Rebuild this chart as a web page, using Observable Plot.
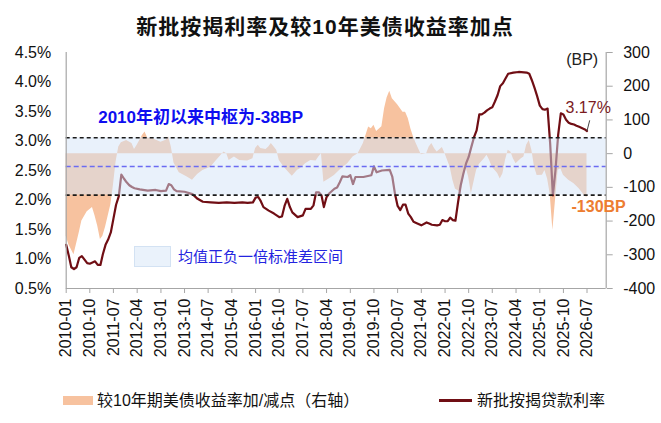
<!DOCTYPE html>
<html>
<head>
<meta charset="utf-8">
<script src="https://cdn.jsdelivr.net/npm/d3@7"></script>
<script src="https://cdn.jsdelivr.net/npm/@observablehq/plot@0.6"></script>
<style>
  body { margin: 0; background: #fff; }
  #wrap { position: relative; width: 661px; height: 423px; overflow: hidden;
          font-family: "Liberation Sans", Arial, "Noto Sans CJK SC", sans-serif; color: #111; }
  #wrap svg { position: absolute; left: 0; top: 0; }
  .title { position: absolute; left: 0; width: 650px; top: 15px; text-align: center;
           font-weight: bold; font-size: 21px; line-height: 24px; letter-spacing: 1px; color: #111; }
  .lg { position: absolute; font-size: 16px; line-height: 19px; white-space: nowrap; color: #111; }
  .sw { position: absolute; }
</style>
</head>
<body>
<div id="wrap">
  <div class="title">新批按揭利率及较10年美债收益率加点</div>
</div>
<script>
// ---------------- data ----------------
const xTickLabels = ["2010-01","2010-10","2011-07","2012-04","2013-01","2013-10","2014-07","2015-04",
  "2016-01","2016-10","2017-07","2018-04","2019-01","2019-10","2020-07","2021-04","2022-01","2022-10",
  "2023-07","2024-04","2025-01","2025-10","2026-07"];

const lineDates = ["2010-01","2010-02","2010-03","2010-04","2010-05","2010-06","2010-07","2010-08","2010-09","2010-10",
  "2010-11","2010-12","2011-01","2011-02","2011-03","2011-04","2011-05","2011-06","2011-07","2011-08","2011-09",
  "2011-10","2011-11","2011-12","2012-01","2012-02","2012-03","2012-05","2012-08","2012-11","2013-01","2013-03",
  "2013-04","2013-05","2013-06","2013-07","2013-10","2014-01","2014-03","2014-05","2014-08","2014-11","2015-02",
  "2015-05","2015-08","2015-10","2015-12","2016-01","2016-02","2016-03","2016-04","2016-06","2016-08","2016-10",
  "2016-11","2016-12","2017-01","2017-02","2017-03","2017-05","2017-07","2017-08","2017-10","2017-11","2017-12",
  "2018-01","2018-02","2018-03","2018-04","2018-05","2018-07","2018-08","2018-09","2018-10","2018-12","2019-01",
  "2019-02","2019-03","2019-06","2019-09","2019-10","2019-11","2020-01","2020-04","2020-05","2020-06","2020-07",
  "2020-08","2020-09","2020-10","2020-11","2020-12","2021-01","2021-02","2021-04","2021-06","2021-07","2021-08",
  "2021-10","2021-11","2021-12","2022-01","2022-02","2022-03","2022-04","2022-05","2022-06","2022-07","2022-08",
  "2022-09","2022-10","2022-11","2022-12","2023-01","2023-02","2023-03","2023-04","2023-05","2023-06","2023-07",
  "2023-08","2023-09","2023-10","2023-11","2023-12","2024-01","2024-03","2024-05","2024-08","2024-09","2024-10",
  "2024-11","2024-12","2025-01","2025-02","2025-03","2025-04","2025-05","2025-06","2025-07","2025-08","2025-09",
  "2025-10","2025-11","2025-12","2026-01","2026-02","2026-03","2026-04","2026-05","2026-06","2026-07"];
const lineRates = [1.24,1.05,0.86,0.83,0.86,1.02,1.05,0.99,0.93,0.92,
  0.94,0.96,0.90,0.90,1.08,1.24,1.33,1.45,1.68,1.92,2.06,
  2.43,2.36,2.30,2.25,2.22,2.20,2.18,2.16,2.17,2.15,2.16,
  2.27,2.25,2.18,2.15,2.14,2.10,2.02,1.97,1.96,1.95,1.96,
  1.95,1.96,1.95,1.96,2.04,2.05,1.98,1.88,1.82,1.77,1.71,
  1.72,1.90,2.02,1.88,1.79,1.71,1.74,1.85,1.85,1.91,2.13,
  2.13,2.08,1.88,2.05,2.11,2.19,2.21,2.30,2.40,2.39,2.42,
  2.27,2.39,2.39,2.42,2.57,2.47,2.50,2.51,2.39,2.10,1.90,
  1.83,1.92,1.92,1.77,1.71,1.63,1.61,1.57,1.62,1.60,1.58,
  1.57,1.58,1.66,1.64,1.64,1.70,1.66,1.65,1.97,2.25,2.45,
  2.62,2.73,2.90,3.06,3.18,3.45,3.45,3.48,3.52,3.55,3.57,
  3.67,3.78,3.93,3.98,4.06,4.14,4.16,4.17,4.16,4.14,4.03,
  3.90,3.76,3.60,3.54,3.53,3.55,2.95,2.08,2.50,3.10,3.47,
  3.45,3.36,3.31,3.29,3.28,3.26,3.24,3.22,3.20,3.17];

const spreadDates = ["2010-01","2010-02","2010-04","2010-06","2010-07","2010-09","2010-11","2010-12","2011-01","2011-02",
  "2011-03","2011-04","2011-06","2011-07","2011-08","2011-09","2011-10","2011-12","2012-02","2012-03","2012-04",
  "2012-06","2012-07","2012-08","2012-10","2013-01","2013-03","2013-04","2013-05","2013-06","2013-08","2013-11",
  "2014-01","2014-03","2014-05","2014-08","2014-10","2015-01","2015-02","2015-03","2015-05","2015-07","2015-10",
  "2015-12","2016-01","2016-02","2016-03","2016-05","2016-06","2016-07","2016-09","2016-10","2016-12","2017-02",
  "2017-03","2017-05","2017-06","2017-08","2017-10","2017-12","2018-01","2018-02","2018-03","2018-05","2018-07",
  "2018-09","2018-12","2019-02","2019-04","2019-06","2019-08","2019-09","2019-10","2019-11","2020-01","2020-02",
  "2020-03","2020-04","2020-05","2020-07","2020-09","2020-10","2020-11","2020-12","2021-01","2021-02","2021-04",
  "2021-06","2021-07","2021-08","2021-09","2021-10","2021-12","2022-01","2022-03","2022-04","2022-05","2022-07",
  "2022-08","2022-09","2022-10","2022-11","2022-12","2023-01","2023-02","2023-04","2023-05","2023-06","2023-07",
  "2023-09","2023-10","2023-11","2023-12","2024-01","2024-02","2024-03","2024-04","2024-06","2024-07","2024-08",
  "2024-09","2024-10","2024-11","2024-12","2025-02","2025-03","2025-04","2025-05","2025-06","2025-07","2025-08",
  "2025-09","2025-10","2025-12","2026-02","2026-04","2026-06","2026-07"];
const spreadBP = [-245,-270,-300,-235,-200,-172,-160,-185,-215,-255,
  -245,-218,-152,-95,-25,20,32,39,30,12,25,
  54,64,46,44,34,40,49,20,-28,-57,-69,
  -79,-62,-50,-40,-22,5,0,-20,-10,-20,-22,
  -15,15,25,15,12,20,30,10,-20,-42,-60,
  -67,-49,-45,-30,-20,-22,-10,0,-85,-75,-65,
  -49,-30,-10,0,30,79,74,84,66,80,133,
  165,185,163,145,123,123,104,74,49,30,-3,
  0,20,30,15,5,18,0,-40,-79,-105,-115,
  -80,-40,-70,-119,-85,-49,-32,-15,-5,-20,-40,
  -59,-75,-60,-20,10,5,-15,-30,-15,-10,25,
  39,10,-40,-65,-64,-50,-75,-120,-227,-140,-49,
  -45,-64,-79,-89,-104,-124,-130];

const spreadMean = -38;   // BP, 2010年初以来中枢
const spreadStd = 85;     // BP, 一倍标准差

const leftTicks = [0.5, 1.0, 1.5, 2.0, 2.5, 3.0, 3.5, 4.0, 4.5];    // %
const rightTicks = [-400, -300, -200, -100, 0, 100, 200, 300];     // BP

const seriesNames = ["较10年期美债收益率加/减点（右轴）", "新批按揭贷款利率"];
const bandName = "均值正负一倍标准差区间";

// ---------------- colours ----------------
const cLine = "#700E14";
const cArea = "#F7C29F";
const cBand = "rgb(212,228,247)";
const cAxis = "#A6A6A6";

// ---------------- build ----------------
const parse = d3.utcParse("%Y-%m");
const bpToRate = d3.scaleLinear([-400, 300], [0.5, 4.5]);   // right axis -> left axis
const lineData = lineDates.map((d, i) => ({date: parse(d), rate: lineRates[i]}));
const spreadData = spreadDates.map((d, i) => ({date: parse(d), bp: spreadBP[i]}));
const lastLine = lineData[lineData.length - 1];
const lastSpread = spreadData[spreadData.length - 1];
const tickDates = xTickLabels.map(parse);
const xStart = parse("2010-01");
const xEnd = new Date(Date.UTC(2027, 1, 8));
const fmtMonth = d3.utcFormat("%Y-%m");

const chart = Plot.plot({
  width: 661,
  height: 423,
  marginTop: 52,
  marginBottom: 135,
  marginLeft: 65.7,
  marginRight: 55.3,
  style: {fontFamily: '"Liberation Sans", Arial, "Noto Sans CJK SC", sans-serif', fontSize: "16px", color: "#111", background: "transparent"},
  x: {type: "utc", domain: [xStart, xEnd], label: null},
  y: {domain: [0.5, 4.5], label: null},
  marks: [
    Plot.areaY(spreadData, {x: "date", y1: () => bpToRate(0), y2: d => bpToRate(d.bp), fill: cArea}),
    Plot.lineY(lineData, {x: "date", y: "rate", stroke: cLine, strokeWidth: 2.2}),
    Plot.rect([spreadMean], {x1: () => xStart, x2: () => xEnd,
      y1: d => bpToRate(d - spreadStd), y2: d => bpToRate(d + spreadStd), fill: cBand, fillOpacity: 0.5}),
    Plot.ruleY([spreadMean - spreadStd, spreadMean + spreadStd], {y: d => bpToRate(d), stroke: "#1a1a1a", strokeWidth: 1.6, strokeDasharray: "4,3"}),
    Plot.ruleY([spreadMean], {y: d => bpToRate(d), stroke: "#6B6BF2", strokeWidth: 1.5, strokeDasharray: "5,3"}),
    // axis lines
    Plot.ruleX([xStart, xEnd], {stroke: cAxis, strokeWidth: 1.2}),
    Plot.ruleY([0.5], {stroke: cAxis, strokeWidth: 1.2}),
    // x axis
    Plot.axisX(tickDates, {fill: "none", stroke: cAxis, tickSize: 5, label: null}),
    Plot.axisX(tickDates, {stroke: "none", fill: "#111", tickSize: 5, tickPadding: 5, tickRotate: -90, tickFormat: fmtMonth, fontSize: 16, label: null}),
    // left axis
    Plot.axisY(leftTicks, {anchor: "left", stroke: "none", fill: "#111", tickSize: 0, tickPadding: 15, tickFormat: d => d.toFixed(1) + "%", fontSize: 16, label: null}),
    // right axis (BP)
    Plot.axisY(rightTicks.map(bpToRate), {anchor: "right", fill: "none", stroke: cAxis, tickSize: 6, label: null}),
    Plot.axisY(rightTicks.map(bpToRate), {anchor: "right", stroke: "none", fill: "#111", tickSize: 6, tickPadding: 11, textAnchor: "start",
      tickFormat: d => String(Math.round(bpToRate.invert(d))), fontSize: 16, label: null}),
    Plot.text(["(BP)"], {frameAnchor: "top-right", textAnchor: "end", dx: -8, dy: 1, fill: "#222", fontSize: 16}),
    // annotations
    Plot.text([spreadMean], {frameAnchor: "top-left", textAnchor: "start", dx: 32, dy: 58,
      text: d => `${xStart.getUTCFullYear()}年初以来中枢为${d}BP`, fill: "#0E0EF0", fontWeight: "bold", fontSize: 17}),
    Plot.link([lastLine], {x1: "date", y1: "rate", x2: d => d3.utcMonth.offset(d.date, 1), y2: d => d.rate + 0.18, stroke: "#444", strokeWidth: 1}),
    Plot.text([lastLine], {x: "date", y: "rate", text: d => d.rate.toFixed(2) + "%", textAnchor: "start", dx: -21.5, dy: -23, fill: "#7B1A1E", fontSize: 16}),
    Plot.text([lastSpread], {x: "date", y: d => bpToRate(d.bp), text: d => d.bp + "BP", textAnchor: "start", dx: -15.5, dy: 9, fill: "#ED7D31", fontWeight: "bold", fontSize: 16})
  ]
});

const wrap = document.getElementById("wrap");
wrap.insertBefore(chart, wrap.firstChild);

function addDiv(cls, css, text) {
  const el = document.createElement("div");
  el.className = cls;
  el.style.cssText = css;
  if (text != null) el.textContent = text;
  wrap.appendChild(el);
  return el;
}
// in-chart band legend
addDiv("sw", `left:133.5px;top:246px;width:37px;height:21px;box-sizing:border-box;background:#EAF2FB;border:1px solid #D3E2F3;`);
addDiv("lg", `left:178px;top:247px;font-size:15px;line-height:19px;color:#2424E0;`, bandName);
// bottom legend
addDiv("sw", `left:63px;top:396px;width:30px;height:9px;background:${cArea};`);
addDiv("lg", `left:97px;top:391px;`, seriesNames[0]);
addDiv("sw", `left:438.6px;top:399px;width:33.5px;height:2.6px;background:${cLine};`);
addDiv("lg", `left:477px;top:391px;`, seriesNames[1]);
</script>
</body>
</html>
